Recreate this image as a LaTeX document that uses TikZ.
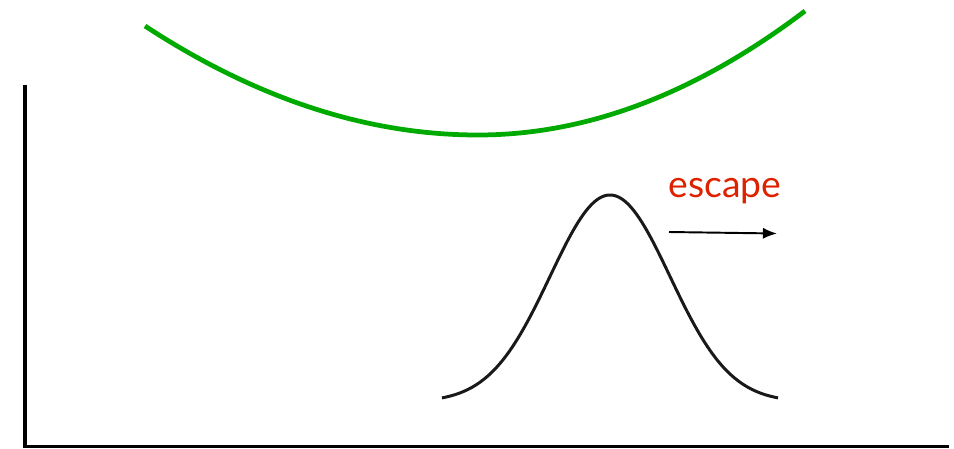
\documentclass[tikz,border=0pt]{standalone}
\usepackage{fontspec}
\setsansfont{Lato}
\usetikzlibrary{arrows.meta}
\definecolor{wellgreen}{RGB}{0,170,0}
\definecolor{escred}{RGB}{221,34,0}
\tikzset{
  axisline/.style={line width=0.9pt, black},
  wellcurve/.style={line width=1.35pt, wellgreen},
  bump/.style={line width=0.85pt, black!90},
  escarrow/.style={line width=0.55pt, -{Latex[length=4pt,width=3.2pt]}},
  esclabel/.style={font=\sffamily\fontsize{10.6}{12}\selectfont, text=escred, anchor=base, inner sep=0pt}
}
\begin{document}
\begin{tikzpicture}[x=0.01cm,y=-0.01cm]
\useasboundingbox (0,0) rectangle (954,448);
% axes
\coordinate (ytop) at (25,85);
\coordinate (origin) at (25,446.5);
\coordinate (xend) at (949,446.5);
\draw[axisline] (ytop) -- (origin) -- (xend);
% green well (asymmetric parabola)
\draw[wellcurve] plot[domain=145:478, samples=40] (\x, {135-109*((\x-478)/333)*((\x-478)/333)})
  -- plot[domain=478:805, samples=40] (\x, {135-124*((\x-478)/327)*((\x-478)/327)});
% gaussian bump
\draw[bump] plot[domain=442:778, samples=80, smooth] (\x, {402-207*exp(-0.5*((\x-610)/60)*((\x-610)/60))});
% escape label and arrow
\node[esclabel] (esc) at (725,197) {escape};
\coordinate (arrS) at (669,232);
\coordinate (arrE) at (777,233.5);
\draw[escarrow] (arrS) -- (arrE);
\end{tikzpicture}
\end{document}
